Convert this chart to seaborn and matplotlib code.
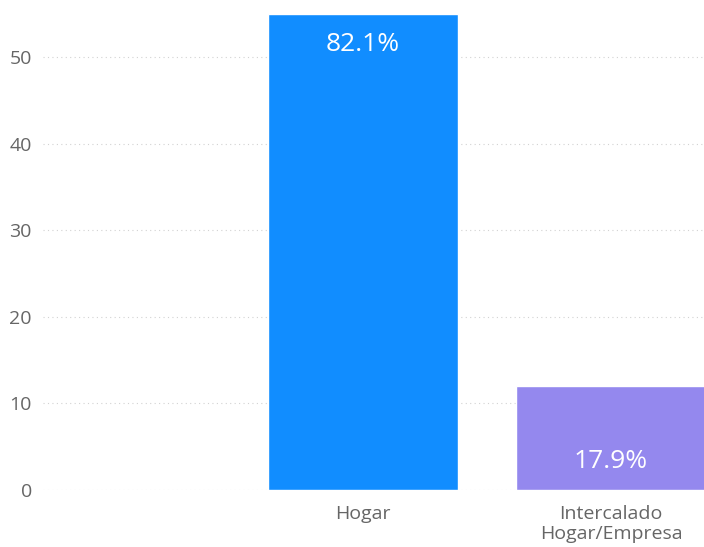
import matplotlib
matplotlib.use("Agg")
import matplotlib.pyplot as plt
import seaborn as sns
import pandas as pd

# Work arrangement counts
categories = ["Hogar", "Intercalado\nHogar/Empresa"]
values = [55, 12]
colors = ["#118DFF", "#9488EE"]
y_ticks = [0, 10, 20, 30, 40, 50]

df = pd.DataFrame({"modalidad": categories, "n": values})

sns.set_theme(style="white")
plt.rcParams["font.family"] = ["Open Sans", "DejaVu Sans"]

fig = plt.figure(figsize=(7.04, 5.47), dpi=100)
ax = fig.add_axes([43 / 704, 1 - 490 / 547, 1 - 43 / 704, 490 / 547])

sns.barplot(data=df, x="modalidad", y="n", hue="modalidad", palette=colors,
            width=0.766, saturation=1, legend=False, ax=ax)

ax.set_xlim(-1.29, 1.375)
ax.set_ylim(0, 56.6)
ax.set_yticks(y_ticks)
ax.yaxis.grid(True, linestyle=(0, (1, 3)), color="#d2d2d2", linewidth=0.8)
ax.set_axisbelow(True)
for s in ax.spines.values():
    s.set_visible(False)
ax.set_xlabel("")
ax.set_ylabel("")
ax.tick_params(axis="both", length=0, labelsize=14, labelcolor="#666666")
ax.tick_params(axis="x", pad=11)
ax.tick_params(axis="y", pad=8)
for lbl in ax.get_xticklabels():
    lbl.set_linespacing(1.1)

# Percentage share labels inside the bars
total = sum(values)
px = 490 / 56.6
label_y = [values[0] - 31 / px, 29 / px]
for i, v in enumerate(values):
    ax.text(i, label_y[i], f"{v / total * 100:.1f}%", ha="center", va="center",
            color="white", fontsize=19)

fig.savefig("out.png", dpi=100)
